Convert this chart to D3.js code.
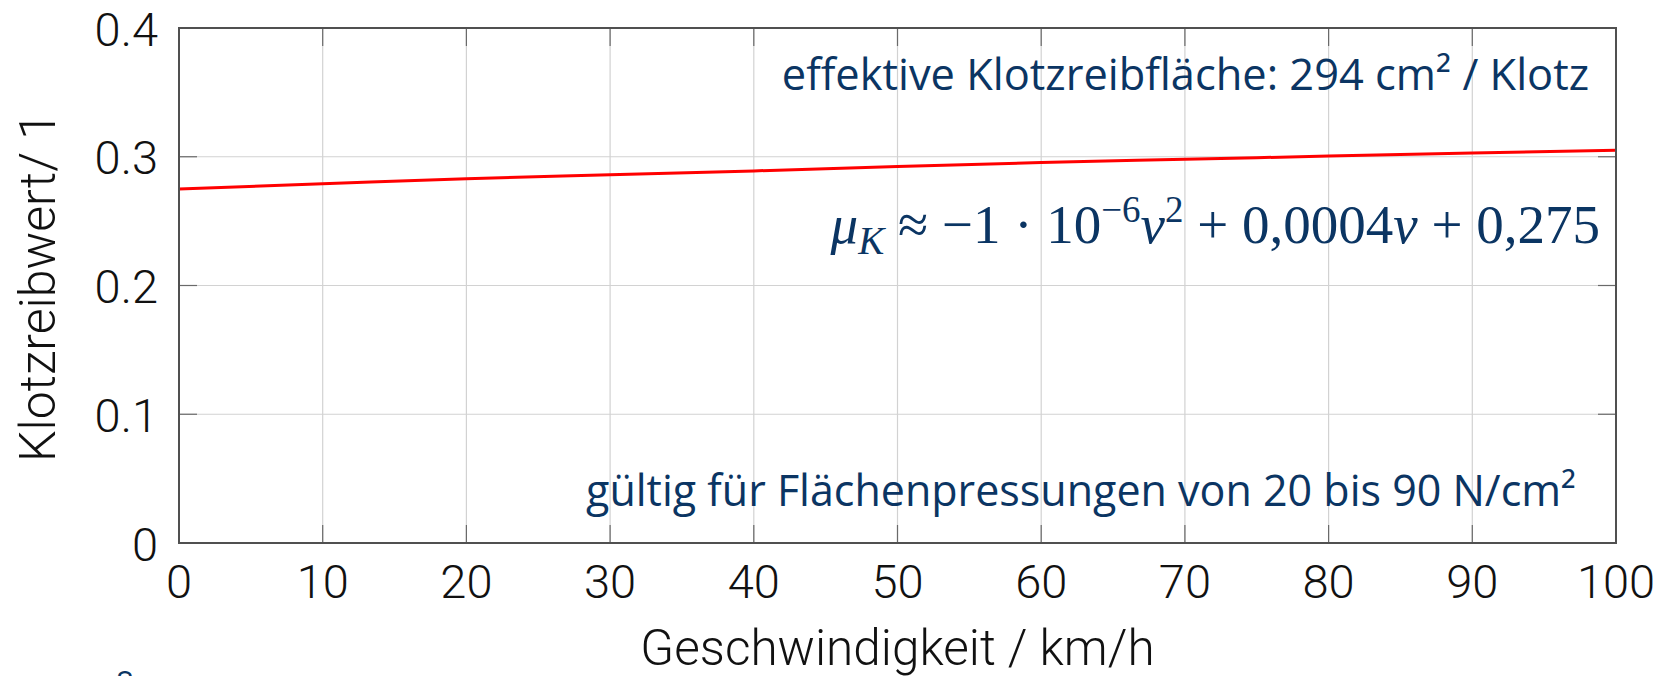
<!DOCTYPE html>
<html>
<head>
<meta charset="utf-8">
<script src="https://cdn.jsdelivr.net/npm/d3@7/dist/d3.min.js"></script>
<style>
  html, body { margin: 0; padding: 0; background: #fff; }
  svg { display: block; }
</style>
</head>
<body>
<script>
// ---- data ----
const speed = [0, 10, 20, 30, 40, 50, 60, 70, 80, 90, 100];          // km/h
const frictionCoef = [0.275, 0.279, 0.283, 0.286, 0.289, 0.2925, 0.2955, 0.298, 0.3005, 0.303, 0.305];
const xTicks = [0, 10, 20, 30, 40, 50, 60, 70, 80, 90, 100];
const yTicks = [0, 0.1, 0.2, 0.3, 0.4];
const yTickLabels = ["0", "0.1", "0.2", "0.3", "0.4"];
const xTitle = "Geschwindigkeit / km/h";
const yTitle = "Klotzreibwert/ 1";
const noteTop = "effektive Klotzreibfläche: 294 cm² / Klotz";
const noteBottom = "gültig für Flächenpressungen von 20 bis 90 N/cm²";

const W = 1669, H = 676;
const m = { left: 179, right: W - 1616, top: 28, bottom: H - 543 };
const axisFont = "Roboto, 'Liberation Sans', sans-serif";
const noteFont = "'Open Sans', 'Noto Sans', sans-serif";
const blue = "#0b3563";

const svg = d3.select("body").append("svg").attr("width", W).attr("height", H);

const x = d3.scaleLinear().domain([0, 100]).range([m.left, W - m.right]);
const y = d3.scaleLinear().domain([0, 0.4]).range([H - m.bottom, m.top]);

// grid
svg.append("g").selectAll("line").data(xTicks.slice(1, -1)).join("line")
  .attr("x1", d => x(d)).attr("x2", d => x(d))
  .attr("y1", y(0)).attr("y2", y(0.4))
  .attr("stroke", "#d2d2d2").attr("stroke-width", 1.2);
svg.append("g").selectAll("line").data(yTicks.slice(1, -1)).join("line")
  .attr("x1", x(0)).attr("x2", x(100))
  .attr("y1", d => y(d)).attr("y2", d => y(d))
  .attr("stroke", "#d2d2d2").attr("stroke-width", 1.2);

// inner ticks (all four sides)
const tl = 18;
const tg = svg.append("g").attr("stroke", "#6a6a6a").attr("stroke-width", 1.2);
tg.selectAll(".tb").data(xTicks.slice(1, -1)).join("line")
  .attr("x1", d => x(d)).attr("x2", d => x(d)).attr("y1", y(0)).attr("y2", y(0) - tl);
tg.selectAll(".tt").data(xTicks.slice(1, -1)).join("line")
  .attr("x1", d => x(d)).attr("x2", d => x(d)).attr("y1", y(0.4)).attr("y2", y(0.4) + tl);
tg.selectAll(".tl").data(yTicks.slice(1, -1)).join("line")
  .attr("x1", x(0)).attr("x2", x(0) + tl).attr("y1", d => y(d)).attr("y2", d => y(d));
tg.selectAll(".tr").data(yTicks.slice(1, -1)).join("line")
  .attr("x1", x(100)).attr("x2", x(100) - tl).attr("y1", d => y(d)).attr("y2", d => y(d));

// data line
svg.append("path")
  .datum(speed.map((v, i) => [v, frictionCoef[i]]))
  .attr("fill", "none").attr("stroke", "#ff0000").attr("stroke-width", 3)
  .attr("d", d3.line().x(d => x(d[0])).y(d => y(d[1])).curve(d3.curveMonotoneX));

// frame
svg.append("rect")
  .attr("x", x(0)).attr("y", y(0.4))
  .attr("width", x(100) - x(0)).attr("height", y(0) - y(0.4))
  .attr("fill", "none").attr("stroke", "#505050").attr("stroke-width", 2);

// tick labels
svg.append("g").selectAll("text").data(xTicks).join("text")
  .attr("x", d => x(d)).attr("y", y(0) + 55)
  .attr("text-anchor", "middle")
  .attr("font-family", axisFont).attr("font-weight", 300).attr("font-size", 47)
  .attr("fill", "#111").text(d => d);
svg.append("g").selectAll("text").data(yTicks).join("text")
  .attr("x", x(0) - 21).attr("y", d => y(d) + 17.5)
  .attr("text-anchor", "end")
  .attr("font-family", axisFont).attr("font-weight", 300).attr("font-size", 47)
  .attr("fill", "#111").text((d, i) => yTickLabels[i]);

// axis titles
svg.append("text")
  .attr("x", (x(0) + x(100)) / 2).attr("y", 665)
  .attr("text-anchor", "middle")
  .attr("font-family", axisFont).attr("font-weight", 300).attr("font-size", 49.5)
  .attr("fill", "#111").text(xTitle);
svg.append("text")
  .attr("transform", `translate(55, 287) rotate(-90)`)
  .attr("text-anchor", "middle")
  .attr("font-family", axisFont).attr("font-weight", 300).attr("font-size", 50)
  .attr("fill", "#111").text(yTitle);

// annotations
svg.append("text")
  .attr("x", 1589).attr("y", 90).attr("text-anchor", "end")
  .attr("font-family", noteFont).attr("font-size", 43.4).attr("fill", blue)
  .text(noteTop);
svg.append("text")
  .attr("x", 1576).attr("y", 506).attr("text-anchor", "end")
  .attr("font-family", noteFont).attr("font-size", 43).attr("fill", blue)
  .text(noteBottom);

// formula
const f = svg.append("text")
  .attr("x", 1600).attr("y", 243).attr("text-anchor", "end")
  .attr("font-family", "'Liberation Serif', 'DejaVu Serif', serif")
  .attr("font-size", 55).attr("fill", blue);
f.append("tspan").attr("font-style", "italic").text("μ");
f.append("tspan").attr("font-style", "italic").attr("font-size", 39).attr("dy", 11).text("K");
f.append("tspan").attr("dy", -11).text(" ≈ −1 · 10");
f.append("tspan").attr("font-size", 37).attr("dy", -21).text("−6");
f.append("tspan").attr("font-style", "italic").attr("dy", 21).text("v");
f.append("tspan").attr("font-size", 37).attr("dy", -21).text("2");
f.append("tspan").attr("dy", 21).text(" + 0,0004");
f.append("tspan").attr("font-style", "italic").text("v");
f.append("tspan").text(" + 0,275");

// cut-off footnote glyph at bottom left
svg.append("text")
  .attr("x", 125).attr("y", 695).attr("text-anchor", "middle")
  .attr("font-family", noteFont).attr("font-size", 32).attr("fill", blue)
  .text("8");
</script>
</body>
</html>
